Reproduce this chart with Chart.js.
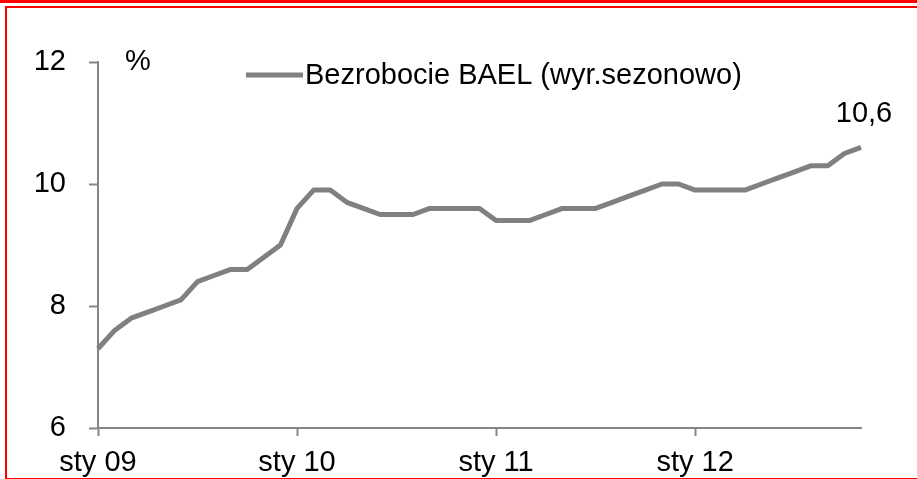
<!DOCTYPE html>
<html>
<head>
<meta charset="utf-8">
<script src="https://cdn.jsdelivr.net/npm/chart.js@4/dist/chart.umd.min.js"></script>
<style>
  body { margin: 0; background: #fff; overflow: hidden; }
  #wrap { position: absolute; left: 0; top: 0; width: 917px; height: 479px; }
  #topbar { position: absolute; left: 0; top: 0; width: 917px; height: 3px; background: #ff0000; }
  #frame { position: absolute; left: 5px; top: 6px; width: 930px; height: 470px;
           border: 2px solid #ff0000; border-right: none; box-sizing: content-box; }
</style>
</head>
<body>
<div id="topbar"></div>
<div id="frame"></div>
<div id="wrap"><canvas id="myChart"></canvas></div>
<script>
// months (Polish short names) and years of the series
const monthNames = ['sty', 'lut', 'mar', 'kwi', 'maj', 'cze', 'lip', 'sie', 'wrz', 'paź', 'lis', 'gru'];
const years = ['09', '10', '11', '12'];
const seriesName = 'Bezrobocie BAEL (wyr.sezonowo)';
// seasonally adjusted LFS unemployment rate, %, sty 09 .. lis 12
const unemployment = [
  7.3, 7.6, 7.8, 7.9, 8.0, 8.1, 8.4, 8.5, 8.6, 8.6, 8.8, 9.0,
  9.6, 9.9, 9.9, 9.7, 9.6, 9.5, 9.5, 9.5, 9.6, 9.6, 9.6, 9.6,
  9.4, 9.4, 9.4, 9.5, 9.6, 9.6, 9.6, 9.7, 9.8, 9.9, 10.0, 10.0,
  9.9, 9.9, 9.9, 9.9, 10.0, 10.1, 10.2, 10.3, 10.3, 10.5, 10.6
];
const yTicks = [6, 8, 10, 12];
const unitLabel = '%';
const lastLabel = '10,6';

const labels = [];
years.forEach(y => monthNames.forEach(m => labels.push(m + ' ' + y)));
labels.length = unemployment.length;

const GRAY = '#808080';
const AXIS = '#868686';
const FONT = "'Liberation Sans', Arial, sans-serif";
const FSIZE = 29;

// legend, unit and last value label drawn on top of the chart
const extras = {
  id: 'extras',
  afterDraw(chart) {
    const ctx = chart.ctx;
    const area = chart.chartArea;
    ctx.save();
    ctx.font = FSIZE + 'px ' + FONT;
    ctx.fillStyle = '#000';
    ctx.textBaseline = 'middle';

    // "%" next to the top of the y axis
    ctx.textAlign = 'left';
    ctx.fillText(unitLabel, area.left + 27, area.top);

    // legend
    ctx.strokeStyle = GRAY;
    ctx.lineWidth = 5;
    ctx.beginPath();
    ctx.moveTo(246, 75);
    ctx.lineTo(303, 75);
    ctx.stroke();
    ctx.fillText(seriesName, 305, 76);

    // value of the last point
    const meta = chart.getDatasetMeta(0);
    const last = meta.data[meta.data.length - 1];
    ctx.textAlign = 'center';
    ctx.textBaseline = 'alphabetic';
    ctx.fillText(lastLabel, last.x + 3, last.y - 25);
    ctx.restore();
  }
};

new Chart(document.getElementById('myChart'), {
  type: 'line',
  data: {
    labels: labels,
    datasets: [{
      label: seriesName,
      data: unemployment,
      borderColor: GRAY,
      borderWidth: 5,
      borderJoinStyle: 'round',
      pointRadius: 0,
      tension: 0,
      fill: false
    }]
  },
  options: {
    responsive: true,
    maintainAspectRatio: false,
    animation: false,
    layout: { padding: { top: 62, right: 56, left: 0, bottom: 0 } },
    plugins: { legend: { display: false }, tooltip: { enabled: false } },
    scales: {
      x: {
        type: 'category',
        offset: false,
        afterBuildTicks(scale) {
          scale.ticks = scale.ticks.filter(t => t.value % 12 === 0);
        },
        afterFit(scale) { scale.height = 51; },
        grid: { drawOnChartArea: false, tickLength: 8, tickColor: AXIS, tickWidth: 2 },
        border: { color: AXIS, width: 2 },
        ticks: {
          autoSkip: false,
          maxRotation: 0,
          padding: 10,
          color: '#000',
          font: { family: FONT, size: FSIZE }
        }
      },
      y: {
        min: 6,
        max: 12,
        afterBuildTicks(scale) {
          scale.ticks = yTicks.map(v => ({ value: v }));
        },
        afterFit(scale) { scale.width = 98; },
        grid: { drawOnChartArea: false, tickLength: 9, tickColor: AXIS, tickWidth: 2 },
        border: { color: AXIS, width: 2 },
        ticks: {
          padding: 23,
          color: '#000',
          font: { family: FONT, size: FSIZE }
        }
      }
    }
  },
  plugins: [extras]
});
</script>
</body>
</html>
